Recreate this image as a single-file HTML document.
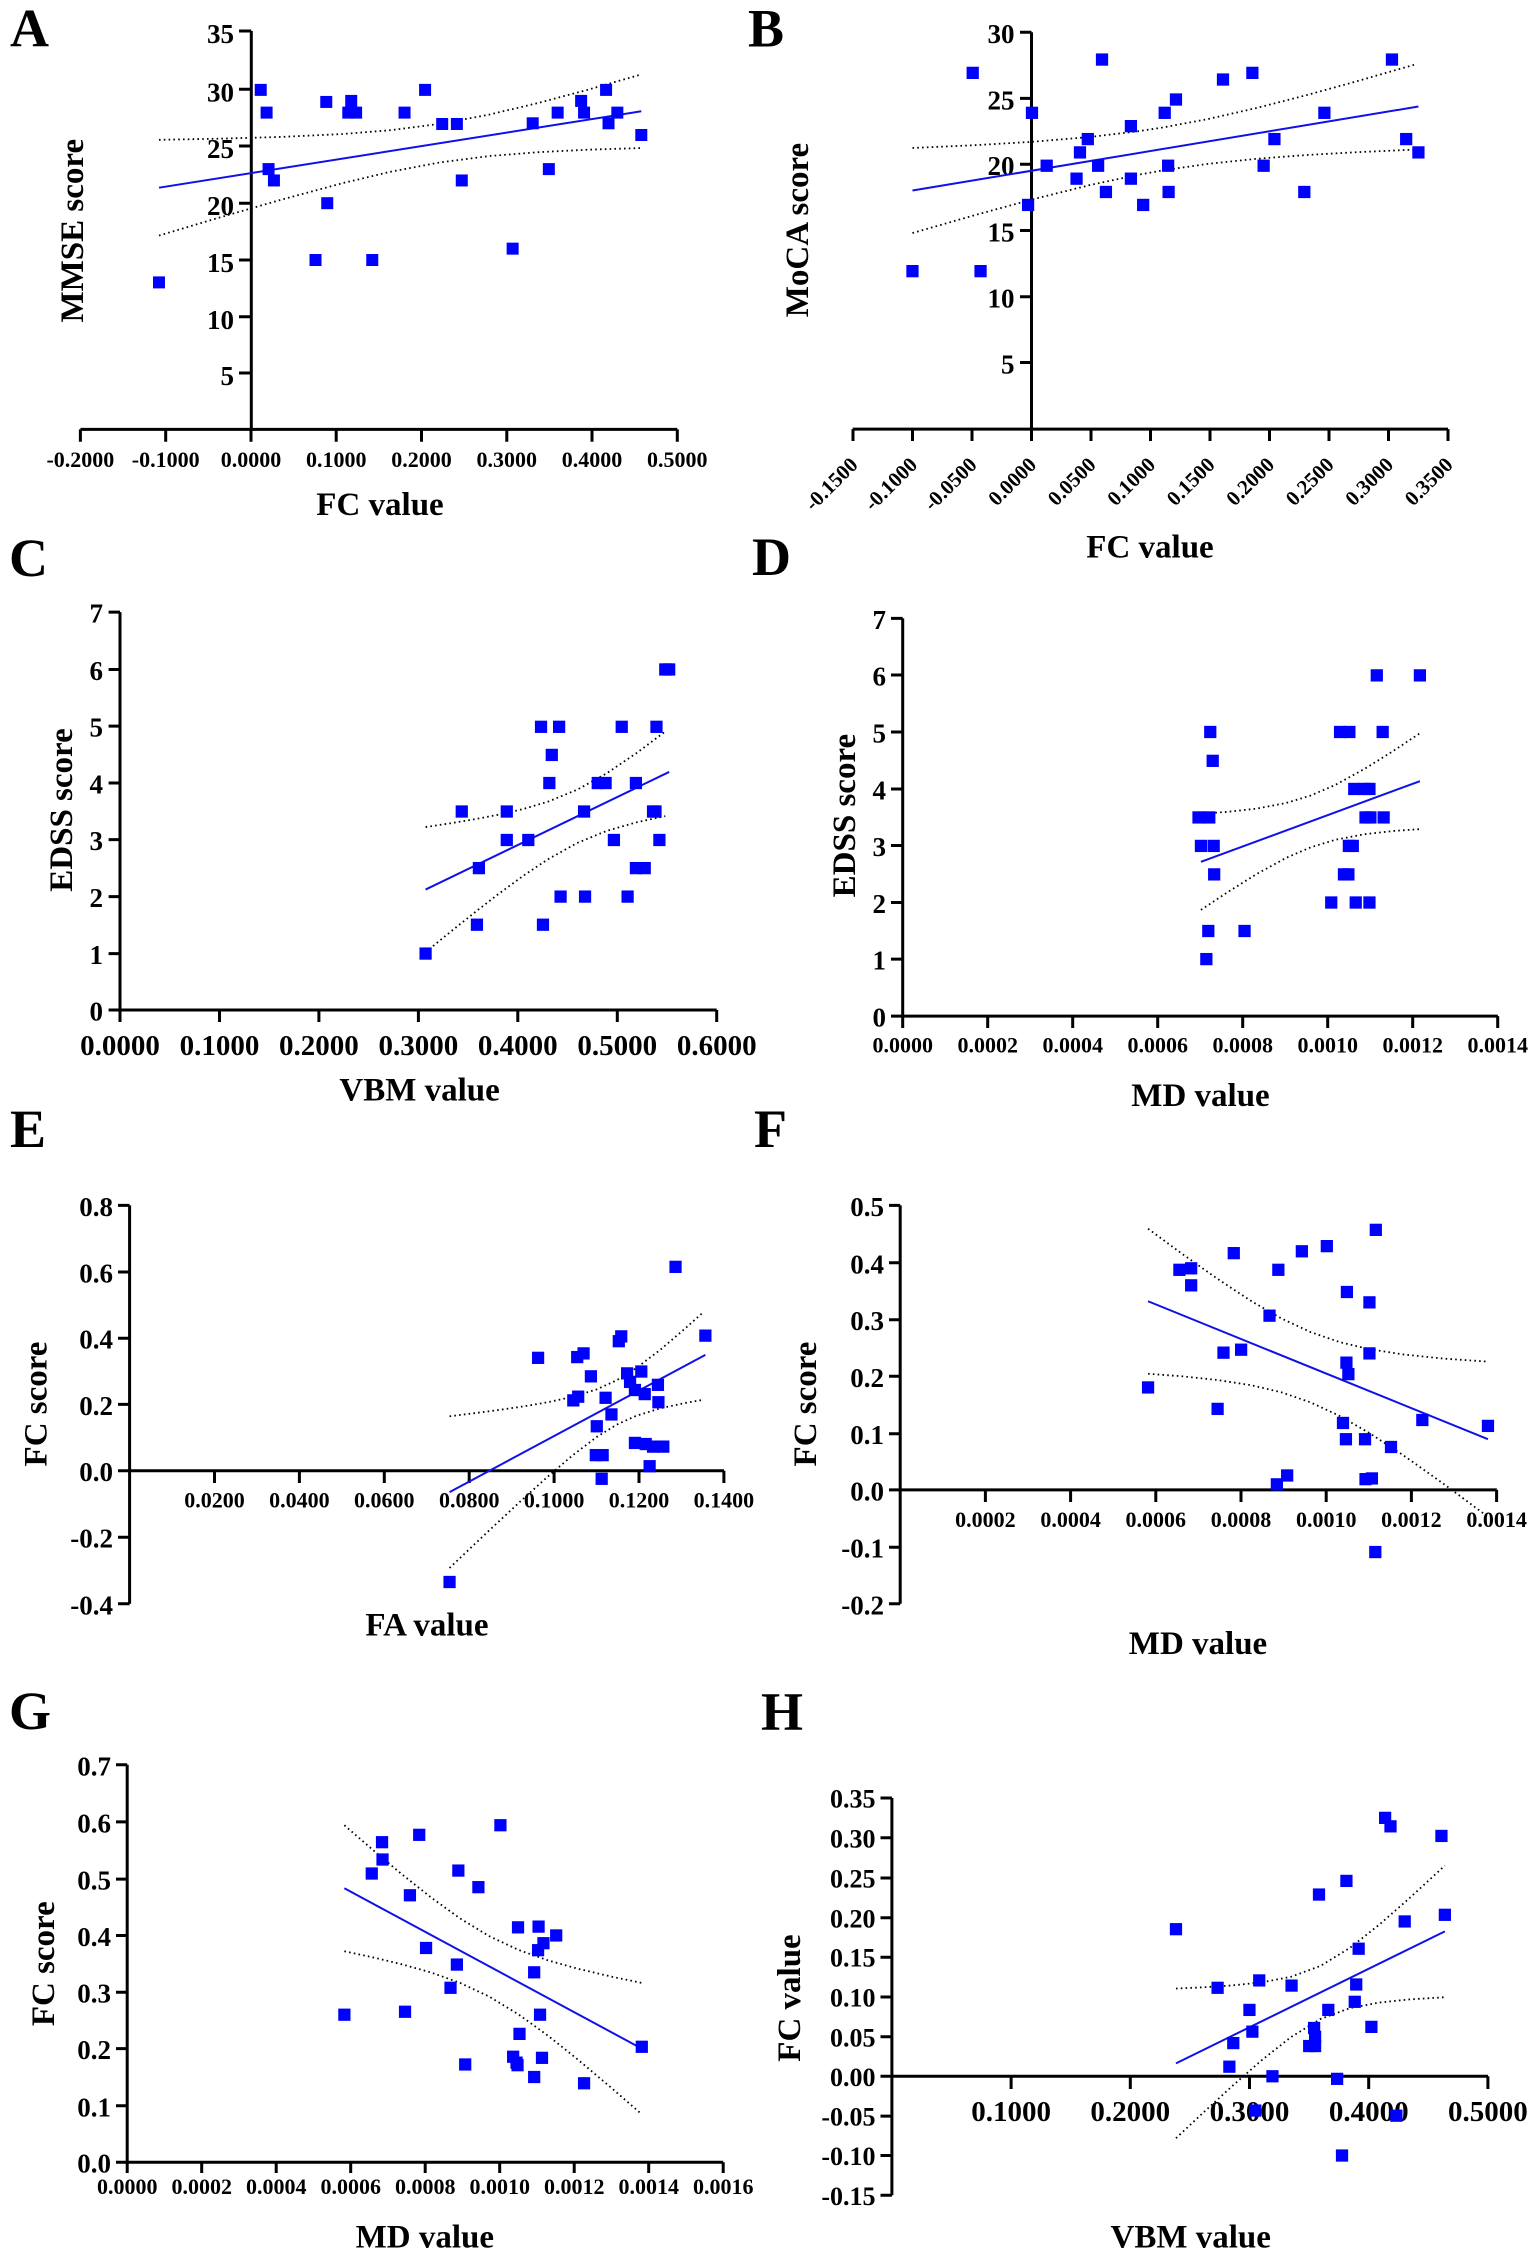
<!DOCTYPE html>
<html><head><meta charset="utf-8"><style>
html,body{margin:0;padding:0;background:#fff}
svg{display:block}
.t{font-family:"Liberation Serif","DejaVu Serif",serif;font-weight:bold;fill:#000}
.yl{font-size:27px;text-anchor:end}
.yh{font-size:26px;text-anchor:end}
.xl{font-size:22px;text-anchor:middle}
.xb{font-size:29px;text-anchor:middle}
.xr{font-size:21px;text-anchor:end}
.ti{font-size:33px;text-anchor:middle}
.lt{font-size:54px}
.ax{stroke:#000;stroke-width:3;fill:none}
.rl{stroke:#1010e8;stroke-width:2;fill:none}
.ci{stroke:#000;stroke-width:1.8;fill:none;stroke-dasharray:1.6 3.2}
.pts use{fill:#0000ff}
</style></head><body>
<svg width="1535" height="2258" viewBox="0 0 1535 2258" xmlns="http://www.w3.org/2000/svg">
<defs>
<rect id="sA" x="-12.27" y="-17.42" width="24.53" height="34.84" fill="#0000ff"/>
<rect id="sQ" x="-12.5" y="-16.6" width="25" height="33.2" fill="#0000ff"/>
</defs>
<rect width="1535" height="2258" fill="#fff"/>

<!-- ================= A ================= -->
<text class="t lt" x="10" y="46.5">A</text>
<path class="ax" d="M251.3,31V429.4M80.4,429.4H677.3
M239,31H251.3M239,89.3H251.3M239,146H251.3M239,203.2H251.3M239,260H251.3M239,316.8H251.3M239,373H251.3
M80.4,429.4V441.8M165.7,429.4V441.8M251,429.4V441.8M336.2,429.4V441.8M421.5,429.4V441.8M506.8,429.4V441.8M592,429.4V441.8M677.3,429.4V441.8"/>
<text class="t yl" x="234" y="43">35</text>
<text class="t yl" x="234" y="101.3">30</text>
<text class="t yl" x="234" y="158">25</text>
<text class="t yl" x="234" y="215.2">20</text>
<text class="t yl" x="234" y="272">15</text>
<text class="t yl" x="234" y="328.8">10</text>
<text class="t yl" x="234" y="385">5</text>
<text class="t xl" x="80.4" y="467">-0.2000</text>
<text class="t xl" x="165.7" y="467">-0.1000</text>
<text class="t xl" x="251" y="467">0.0000</text>
<text class="t xl" x="336.2" y="467">0.1000</text>
<text class="t xl" x="421.5" y="467">0.2000</text>
<text class="t xl" x="506.8" y="467">0.3000</text>
<text class="t xl" x="592" y="467">0.4000</text>
<text class="t xl" x="677.3" y="467">0.5000</text>
<text class="t ti" x="380" y="515">FC value</text>
<text class="t ti" transform="translate(83,230.7) rotate(-90)">MMSE score</text>
<g transform="scale(0.48917,0.34439)">
<polyline class="ci" vector-effect="non-scaling-stroke" points="325,406 450,402.6 575,397.6 700,389.2 800,377.8 900,359.5 1000,332.8 1100,299.1 1200,261.2 1311,216.2"/>
<polyline class="ci" vector-effect="non-scaling-stroke" points="325,684 450,631.1 575,579.8 700,531.9 800,498.2 900,471.5 1000,453.2 1100,441.9 1200,434.8 1311,429.8"/>
<line class="rl" vector-effect="non-scaling-stroke" x1="325" y1="545" x2="1311" y2="323"/>
<g class="pts">
<use href="#sA" x="533" y="261"/><use href="#sA" x="545" y="327"/><use href="#sA" x="549" y="491"/><use href="#sA" x="560" y="524"/><use href="#sA" x="645" y="755"/><use href="#sA" x="667" y="296"/><use href="#sA" x="669" y="590"/><use href="#sA" x="718" y="293"/><use href="#sA" x="712" y="327"/><use href="#sA" x="728" y="327"/><use href="#sA" x="761" y="755"/><use href="#sA" x="827" y="327"/><use href="#sA" x="869" y="261"/><use href="#sA" x="904" y="360"/><use href="#sA" x="934" y="360"/><use href="#sA" x="944" y="524"/><use href="#sA" x="1048" y="722"/><use href="#sA" x="1089" y="358"/><use href="#sA" x="1122" y="491"/><use href="#sA" x="1140" y="327"/><use href="#sA" x="1188" y="293"/><use href="#sA" x="1194" y="327"/><use href="#sA" x="1239" y="261"/><use href="#sA" x="1244" y="358"/><use href="#sA" x="1262" y="327"/><use href="#sA" x="1311" y="392"/><use href="#sA" x="325" y="820"/>
</g></g>

<!-- ================= B ================= -->
<text class="t lt" x="748" y="46.5">B</text>
<path class="ax" d="M1031.5,32.2V429.1M852.7,429.1H1448
M1020,32.2H1031.5M1020,98.4H1031.5M1020,164.2H1031.5M1020,230.5H1031.5M1020,296.7H1031.5M1020,362.5H1031.5
M853,429.1V441M912.5,429.1V441M972,429.1V441M1031.5,429.1V441M1091,429.1V441M1150.5,429.1V441M1210,429.1V441M1269.5,429.1V441M1329,429.1V441M1388.5,429.1V441M1448,429.1V441"/>
<text class="t yl" x="1014.5" y="43.2">30</text>
<text class="t yl" x="1014.5" y="109.4">25</text>
<text class="t yl" x="1014.5" y="175.2">20</text>
<text class="t yl" x="1014.5" y="241.5">15</text>
<text class="t yl" x="1014.5" y="307.7">10</text>
<text class="t yl" x="1014.5" y="373.5">5</text>
<text class="t xr" transform="translate(859,466) rotate(-45)">-0.1500</text>
<text class="t xr" transform="translate(918.5,466) rotate(-45)">-0.1000</text>
<text class="t xr" transform="translate(978,466) rotate(-45)">-0.0500</text>
<text class="t xr" transform="translate(1037.5,466) rotate(-45)">0.0000</text>
<text class="t xr" transform="translate(1097,466) rotate(-45)">0.0500</text>
<text class="t xr" transform="translate(1156.5,466) rotate(-45)">0.1000</text>
<text class="t xr" transform="translate(1216,466) rotate(-45)">0.1500</text>
<text class="t xr" transform="translate(1275.5,466) rotate(-45)">0.2000</text>
<text class="t xr" transform="translate(1335,466) rotate(-45)">0.2500</text>
<text class="t xr" transform="translate(1394.5,466) rotate(-45)">0.3000</text>
<text class="t xr" transform="translate(1454,466) rotate(-45)">0.3500</text>
<text class="t ti" x="1150" y="557.4">FC value</text>
<text class="t ti" transform="translate(808,230) rotate(-90)">MoCA score</text>
<g transform="translate(767,0) scale(0.48979,0.36991)">
<polyline class="ci" vector-effect="non-scaling-stroke" points="297,400 420,392.8 540,383.5 660,370.3 760,354.4 810,344.2 900,321.9 1000,291.8 1100,257.8 1200,221.3 1325,173.7"/>
<polyline class="ci" vector-effect="non-scaling-stroke" points="297,630 420,583.2 540,539.7 660,500.1 760,472 810,460.2 900,443.1 1000,429.2 1100,419.2 1200,411.7 1325,404.3"/>
<line class="rl" vector-effect="non-scaling-stroke" x1="297" y1="515" x2="1330" y2="288"/>
<g class="pts">
<use href="#sQ" x="297" y="733"/><use href="#sQ" x="420" y="197"/><use href="#sQ" x="436" y="733"/><use href="#sQ" x="541" y="305"/><use href="#sQ" x="533" y="554"/><use href="#sQ" x="571" y="448"/><use href="#sQ" x="632" y="483"/><use href="#sQ" x="639" y="412"/><use href="#sQ" x="655" y="376"/><use href="#sQ" x="676" y="448"/><use href="#sQ" x="684" y="161"/><use href="#sQ" x="692" y="519"/><use href="#sQ" x="743" y="341"/><use href="#sQ" x="743" y="483"/><use href="#sQ" x="768" y="554"/><use href="#sQ" x="812" y="305"/><use href="#sQ" x="819" y="448"/><use href="#sQ" x="820" y="519"/><use href="#sQ" x="835" y="269"/><use href="#sQ" x="931" y="215"/><use href="#sQ" x="991" y="197"/><use href="#sQ" x="1014" y="448"/><use href="#sQ" x="1036" y="376"/><use href="#sQ" x="1097" y="519"/><use href="#sQ" x="1138" y="305"/><use href="#sQ" x="1276" y="161"/><use href="#sQ" x="1305" y="376"/><use href="#sQ" x="1330" y="412"/>
</g></g>

<!-- ================= C ================= -->
<text class="t lt" x="9" y="576">C</text>
<path class="ax" d="M120,612.1V1010M119.8,1010H716.7
M108.6,612.1H120M108.6,669.5H120M108.6,726.1H120M108.6,783H120M108.6,839.6H120M108.6,896.6H120M108.6,953.6H120M108.6,1010H120
M120,1010V1022M219.5,1010V1022M318.9,1010V1022M418.4,1010V1022M517.8,1010V1022M617.3,1010V1022M716.7,1010V1022"/>
<text class="t yl" x="103" y="622.6">7</text>
<text class="t yl" x="103" y="680">6</text>
<text class="t yl" x="103" y="736.6">5</text>
<text class="t yl" x="103" y="793.5">4</text>
<text class="t yl" x="103" y="850.1">3</text>
<text class="t yl" x="103" y="907.1">2</text>
<text class="t yl" x="103" y="964.1">1</text>
<text class="t yl" x="103" y="1020.5">0</text>
<text class="t xb" x="120" y="1055">0.0000</text>
<text class="t xb" x="219.5" y="1055">0.1000</text>
<text class="t xb" x="318.9" y="1055">0.2000</text>
<text class="t xb" x="418.4" y="1055">0.3000</text>
<text class="t xb" x="517.8" y="1055">0.4000</text>
<text class="t xb" x="617.3" y="1055">0.5000</text>
<text class="t xb" x="716.7" y="1055">0.6000</text>
<text class="t ti" x="419.6" y="1100.4">VBM value</text>
<text class="t ti" transform="translate(72,810) rotate(-90)">EDSS score</text>
<g transform="translate(0,540) scale(0.48917,0.36991)">
<polyline class="ci" vector-effect="non-scaling-stroke" points="870,776 920,766 970,754.9 1020,742.4 1070,727.1 1120,707.5 1180,675 1240,630.9 1300,577.2 1360,517.8"/>
<polyline class="ci" vector-effect="non-scaling-stroke" points="870,1114 920,1060.2 970,1007.3 1020,956 1070,907.5 1120,863.2 1180,819 1240,786.5 1300,763.6 1360,746.4"/>
<line class="rl" vector-effect="non-scaling-stroke" x1="870" y1="945" x2="1368" y2="627"/>
<g class="pts">
<use href="#sQ" x="870" y="1118"/><use href="#sQ" x="944" y="734"/><use href="#sQ" x="975" y="1040"/><use href="#sQ" x="979" y="887"/><use href="#sQ" x="1036" y="734"/><use href="#sQ" x="1036" y="811"/><use href="#sQ" x="1080" y="811"/><use href="#sQ" x="1106" y="505"/><use href="#sQ" x="1110" y="1040"/><use href="#sQ" x="1128" y="581"/><use href="#sQ" x="1123" y="657"/><use href="#sQ" x="1143" y="505"/><use href="#sQ" x="1146" y="964"/><use href="#sQ" x="1194" y="734"/><use href="#sQ" x="1196" y="964"/><use href="#sQ" x="1222" y="657"/><use href="#sQ" x="1238" y="657"/><use href="#sQ" x="1255" y="811"/><use href="#sQ" x="1271" y="505"/><use href="#sQ" x="1283" y="964"/><use href="#sQ" x="1300" y="657"/><use href="#sQ" x="1300" y="887"/><use href="#sQ" x="1318" y="887"/><use href="#sQ" x="1335" y="734"/><use href="#sQ" x="1340" y="734"/><use href="#sQ" x="1342" y="505"/><use href="#sQ" x="1348" y="811"/><use href="#sQ" x="1360" y="350"/><use href="#sQ" x="1368" y="350"/>
</g></g>

<!-- ================= D ================= -->
<text class="t lt" x="752" y="575">D</text>
<path class="ax" d="M902.7,618.4V1016.1M902.7,1016.1H1497.8
M891,618.4H902.7M891,675H902.7M891,732H902.7M891,789H902.7M891,845.5H902.7M891,902.5H902.7M891,959.1H902.7M891,1016.1H902.7
M902.7,1016.1V1028M987.7,1016.1V1028M1072.7,1016.1V1028M1157.7,1016.1V1028M1242.7,1016.1V1028M1327.7,1016.1V1028M1412.7,1016.1V1028M1497.7,1016.1V1028"/>
<text class="t yl" x="886" y="628.9">7</text>
<text class="t yl" x="886" y="685.5">6</text>
<text class="t yl" x="886" y="742.5">5</text>
<text class="t yl" x="886" y="799.5">4</text>
<text class="t yl" x="886" y="856">3</text>
<text class="t yl" x="886" y="913">2</text>
<text class="t yl" x="886" y="969.6">1</text>
<text class="t yl" x="886" y="1026.6">0</text>
<text class="t xl" x="902.7" y="1052.3">0.0000</text>
<text class="t xl" x="987.7" y="1052.3">0.0002</text>
<text class="t xl" x="1072.7" y="1052.3">0.0004</text>
<text class="t xl" x="1157.7" y="1052.3">0.0006</text>
<text class="t xl" x="1242.7" y="1052.3">0.0008</text>
<text class="t xl" x="1327.7" y="1052.3">0.0010</text>
<text class="t xl" x="1412.7" y="1052.3">0.0012</text>
<text class="t xl" x="1497.7" y="1052.3">0.0014</text>
<text class="t ti" x="1200.5" y="1106">MD value</text>
<text class="t ti" transform="translate(855,815.6) rotate(-90)">EDSS score</text>
<g transform="translate(767,540) scale(0.48979,0.36991)">
<polyline class="ci" vector-effect="non-scaling-stroke" points="886,740 940,735 1000,726.1 1060,711 1110,690.8 1160,662.3 1220,618.8 1280,569.1 1333,522.4"/>
<polyline class="ci" vector-effect="non-scaling-stroke" points="886,1000 940,952.4 1000,902.7 1060,859.2 1110,830.8 1160,810.5 1220,795.4 1280,786.5 1333,781.6"/>
<line class="rl" vector-effect="non-scaling-stroke" x1="886" y1="870" x2="1333" y2="652"/>
<g class="pts">
<use href="#sQ" x="897" y="1133"/><use href="#sQ" x="901" y="1057"/><use href="#sQ" x="975" y="1057"/><use href="#sQ" x="886" y="827"/><use href="#sQ" x="912" y="827"/><use href="#sQ" x="913" y="904"/><use href="#sQ" x="881" y="750"/><use href="#sQ" x="903" y="750"/><use href="#sQ" x="905" y="519"/><use href="#sQ" x="910" y="597"/><use href="#sQ" x="1152" y="980"/><use href="#sQ" x="1170" y="519"/><use href="#sQ" x="1189" y="519"/><use href="#sQ" x="1178" y="904"/><use href="#sQ" x="1187" y="904"/><use href="#sQ" x="1188" y="827"/><use href="#sQ" x="1196" y="827"/><use href="#sQ" x="1199" y="673"/><use href="#sQ" x="1220" y="673"/><use href="#sQ" x="1230" y="673"/><use href="#sQ" x="1202" y="980"/><use href="#sQ" x="1230" y="980"/><use href="#sQ" x="1222" y="750"/><use href="#sQ" x="1232" y="750"/><use href="#sQ" x="1259" y="750"/><use href="#sQ" x="1245" y="366"/><use href="#sQ" x="1257" y="519"/><use href="#sQ" x="1333" y="366"/>
</g></g>

<!-- ================= E ================= -->
<text class="t lt" x="10" y="1147">E</text>
<path class="ax" d="M129.6,1205.4V1603.8M129.6,1470.7H724
M118,1205.4H129.6M118,1272H129.6M118,1338.2H129.6M118,1404.4H129.6M118,1470.7H129.6M118,1537.2H129.6M118,1603.8H129.6
M214.5,1470.7V1483M299.4,1470.7V1483M384.3,1470.7V1483M469.2,1470.7V1483M554.1,1470.7V1483M639,1470.7V1483M723.9,1470.7V1483"/>
<text class="t yl" x="113" y="1215.9">0.8</text>
<text class="t yl" x="113" y="1282.5">0.6</text>
<text class="t yl" x="113" y="1348.7">0.4</text>
<text class="t yl" x="113" y="1414.9">0.2</text>
<text class="t yl" x="113" y="1481.2">0.0</text>
<text class="t yl" x="113" y="1547.7">-0.2</text>
<text class="t yl" x="113" y="1614.3">-0.4</text>
<text class="t xl" x="214.5" y="1507.6">0.0200</text>
<text class="t xl" x="299.4" y="1507.6">0.0400</text>
<text class="t xl" x="384.3" y="1507.6">0.0600</text>
<text class="t xl" x="469.2" y="1507.6">0.0800</text>
<text class="t xl" x="554.1" y="1507.6">0.1000</text>
<text class="t xl" x="639" y="1507.6">0.1200</text>
<text class="t xl" x="723.9" y="1507.6">0.1400</text>
<text class="t ti" x="427" y="1635.3">FA value</text>
<text class="t ti" transform="translate(46.5,1404) rotate(-90)">FC score</text>
<g transform="translate(0,1110) scale(0.48917,0.36991)">
<polyline class="ci" vector-effect="non-scaling-stroke" points="919,828 970,819.6 1020,810.9 1070,801.3 1120,790 1170,775.7 1220,755.2 1260,731.1 1300,698.4 1350,648 1400,591.4 1435,549.8"/>
<polyline class="ci" vector-effect="non-scaling-stroke" points="919,1238 970,1174 1020,1111.9 1070,1050.5 1120,990.8 1170,934.1 1220,883.8 1260,851.1 1300,827 1350,806.4 1400,792.2 1435,784"/>
<line class="rl" vector-effect="non-scaling-stroke" x1="919" y1="1033" x2="1442" y2="662"/>
<g class="pts">
<use href="#sQ" x="919" y="1276"/><use href="#sQ" x="1100" y="670"/><use href="#sQ" x="1172" y="785"/><use href="#sQ" x="1182" y="775"/><use href="#sQ" x="1180" y="668"/><use href="#sQ" x="1193" y="658"/><use href="#sQ" x="1208" y="720"/><use href="#sQ" x="1220" y="855"/><use href="#sQ" x="1218" y="933"/><use href="#sQ" x="1232" y="933"/><use href="#sQ" x="1230" y="997"/><use href="#sQ" x="1238" y="778"/><use href="#sQ" x="1250" y="823"/><use href="#sQ" x="1265" y="625"/><use href="#sQ" x="1270" y="612"/><use href="#sQ" x="1282" y="712"/><use href="#sQ" x="1288" y="735"/><use href="#sQ" x="1298" y="757"/><use href="#sQ" x="1298" y="900"/><use href="#sQ" x="1311" y="707"/><use href="#sQ" x="1318" y="768"/><use href="#sQ" x="1320" y="903"/><use href="#sQ" x="1328" y="963"/><use href="#sQ" x="1335" y="910"/><use href="#sQ" x="1345" y="743"/><use href="#sQ" x="1346" y="790"/><use href="#sQ" x="1356" y="910"/><use href="#sQ" x="1381" y="424"/><use href="#sQ" x="1442" y="610"/>
</g></g>

<!-- ================= F ================= -->
<text class="t lt" x="754" y="1147">F</text>
<path class="ax" d="M900.2,1205.4V1603.8M900.2,1489.9H1496.8
M889,1205.4H900.2M889,1262.8H900.2M889,1319.7H900.2M889,1376.3H900.2M889,1433.7H900.2M889,1489.9H900.2M889,1547.2H900.2M889,1603.8H900.2
M985.4,1489.9V1502M1070.6,1489.9V1502M1155.8,1489.9V1502M1241,1489.9V1502M1326.2,1489.9V1502M1411.4,1489.9V1502M1496.6,1489.9V1502"/>
<text class="t yl" x="884" y="1215.9">0.5</text>
<text class="t yl" x="884" y="1273.3">0.4</text>
<text class="t yl" x="884" y="1330.2">0.3</text>
<text class="t yl" x="884" y="1386.8">0.2</text>
<text class="t yl" x="884" y="1444.2">0.1</text>
<text class="t yl" x="884" y="1500.4">0.0</text>
<text class="t yl" x="884" y="1557.7">-0.1</text>
<text class="t yl" x="884" y="1614.3">-0.2</text>
<text class="t xl" x="985.4" y="1526.9">0.0002</text>
<text class="t xl" x="1070.6" y="1526.9">0.0004</text>
<text class="t xl" x="1155.8" y="1526.9">0.0006</text>
<text class="t xl" x="1241" y="1526.9">0.0008</text>
<text class="t xl" x="1326.2" y="1526.9">0.0010</text>
<text class="t xl" x="1411.4" y="1526.9">0.0012</text>
<text class="t xl" x="1496.6" y="1526.9">0.0014</text>
<text class="t ti" x="1198" y="1653.8">MD value</text>
<text class="t ti" transform="translate(816,1404) rotate(-90)">FC score</text>
<g transform="translate(767,1110) scale(0.48979,0.36991)">
<polyline class="ci" vector-effect="non-scaling-stroke" points="778,321 850,391.2 920,456.7 990,517.6 1050,563.3 1110,600.5 1170,627.8 1230,646.6 1300,661 1380,671.9 1472,680.3"/>
<polyline class="ci" vector-effect="non-scaling-stroke" points="778,713 850,720.2 920,729.9 990,744.4 1050,763.1 1110,790.5 1170,827.6 1230,873.4 1300,934.2 1380,1009.3 1472,1099.7"/>
<line class="rl" vector-effect="non-scaling-stroke" x1="778" y1="517" x2="1472" y2="890"/>
<g class="pts">
<use href="#sQ" x="778" y="750"/><use href="#sQ" x="842" y="432"/><use href="#sQ" x="866" y="428"/><use href="#sQ" x="866" y="474"/><use href="#sQ" x="920" y="808"/><use href="#sQ" x="932" y="656"/><use href="#sQ" x="953" y="387"/><use href="#sQ" x="968" y="648"/><use href="#sQ" x="1026" y="556"/><use href="#sQ" x="1041" y="1012"/><use href="#sQ" x="1044" y="432"/><use href="#sQ" x="1062" y="988"/><use href="#sQ" x="1092" y="382"/><use href="#sQ" x="1143" y="368"/><use href="#sQ" x="1176" y="846"/><use href="#sQ" x="1182" y="890"/><use href="#sQ" x="1184" y="492"/><use href="#sQ" x="1183" y="683"/><use href="#sQ" x="1187" y="714"/><use href="#sQ" x="1221" y="890"/><use href="#sQ" x="1222" y="998"/><use href="#sQ" x="1235" y="996"/><use href="#sQ" x="1230" y="520"/><use href="#sQ" x="1230" y="658"/><use href="#sQ" x="1243" y="324"/><use href="#sQ" x="1242" y="1195"/><use href="#sQ" x="1274" y="911"/><use href="#sQ" x="1338" y="838"/><use href="#sQ" x="1472" y="854"/>
</g></g>

<!-- ================= G ================= -->
<text class="t lt" x="9" y="1729">G</text>
<path class="ax" d="M127.2,1764.8V2162.2M127.2,2162.2H723.2
M116,1764.8H127.2M116,1821.9H127.2M116,1879.1H127.2M116,1935.5H127.2M116,1992.2H127.2M116,2048.6H127.2M116,2105.8H127.2M116,2162.2H127.2
M127.2,2162.2V2173M201.7,2162.2V2173M276.2,2162.2V2173M350.7,2162.2V2173M425.2,2162.2V2173M499.7,2162.2V2173M574.2,2162.2V2173M648.7,2162.2V2173M723.2,2162.2V2173"/>
<text class="t yl" x="111" y="1775.3">0.7</text>
<text class="t yl" x="111" y="1832.4">0.6</text>
<text class="t yl" x="111" y="1889.6">0.5</text>
<text class="t yl" x="111" y="1946">0.4</text>
<text class="t yl" x="111" y="2002.7">0.3</text>
<text class="t yl" x="111" y="2059.1">0.2</text>
<text class="t yl" x="111" y="2116.3">0.1</text>
<text class="t yl" x="111" y="2172.7">0.0</text>
<text class="t xl" x="127.2" y="2194.2">0.0000</text>
<text class="t xl" x="201.7" y="2194.2">0.0002</text>
<text class="t xl" x="276.2" y="2194.2">0.0004</text>
<text class="t xl" x="350.7" y="2194.2">0.0006</text>
<text class="t xl" x="425.2" y="2194.2">0.0008</text>
<text class="t xl" x="499.7" y="2194.2">0.0010</text>
<text class="t xl" x="574.2" y="2194.2">0.0012</text>
<text class="t xl" x="648.7" y="2194.2">0.0014</text>
<text class="t xl" x="723.2" y="2194.2">0.0016</text>
<text class="t ti" x="424.8" y="2247.7">MD value</text>
<text class="t ti" transform="translate(53.8,1963.7) rotate(-90)">FC score</text>
<g transform="translate(0,1680) scale(0.48917,0.36862)">
<polyline class="ci" vector-effect="non-scaling-stroke" points="704,394 760,458.4 820,525.3 880,588.8 940,646.4 1000,694.8 1060,732.2 1120,760.5 1180,782.9 1250,804.7 1312,821.8"/>
<polyline class="ci" vector-effect="non-scaling-stroke" points="704,736 760,751.8 820,770.7 880,793 940,821.4 1000,858.8 1060,907.2 1120,964.7 1180,1028.3 1250,1106.7 1312,1178.2"/>
<line class="rl" vector-effect="non-scaling-stroke" x1="704" y1="565" x2="1312" y2="1000"/>
<g class="pts">
<use href="#sQ" x="704" y="908"/><use href="#sQ" x="760" y="525"/><use href="#sQ" x="781" y="440"/><use href="#sQ" x="782" y="487"/><use href="#sQ" x="828" y="900"/><use href="#sQ" x="838" y="584"/><use href="#sQ" x="857" y="420"/><use href="#sQ" x="871" y="727"/><use href="#sQ" x="921" y="835"/><use href="#sQ" x="934" y="772"/><use href="#sQ" x="937" y="517"/><use href="#sQ" x="951" y="1043"/><use href="#sQ" x="978" y="562"/><use href="#sQ" x="1023" y="394"/><use href="#sQ" x="1049" y="1022"/><use href="#sQ" x="1056" y="1038"/><use href="#sQ" x="1058" y="1045"/><use href="#sQ" x="1059" y="671"/><use href="#sQ" x="1062" y="960"/><use href="#sQ" x="1092" y="1077"/><use href="#sQ" x="1092" y="793"/><use href="#sQ" x="1100" y="733"/><use href="#sQ" x="1101" y="669"/><use href="#sQ" x="1104" y="908"/><use href="#sQ" x="1108" y="1025"/><use href="#sQ" x="1111" y="714"/><use href="#sQ" x="1137" y="693"/><use href="#sQ" x="1194" y="1094"/><use href="#sQ" x="1312" y="995"/>
</g></g>

<!-- ================= H ================= -->
<text class="t lt" x="761" y="1730">H</text>
<path class="ax" d="M891.9,1798V2195.3M891.9,2076.3H1488
M880.5,1798H891.9M880.5,1837.8H891.9M880.5,1878H891.9M880.5,1917.8H891.9M880.5,1957.2H891.9M880.5,1997H891.9M880.5,2036.8H891.9M880.5,2076.3H891.9M880.5,2116.1H891.9M880.5,2155.5H891.9M880.5,2195.3H891.9
M1011.1,2076.3V2089M1130.3,2076.3V2089M1249.5,2076.3V2089M1368.7,2076.3V2089M1487.9,2076.3V2089"/>
<text class="t yh" x="875.5" y="1807.5">0.35</text>
<text class="t yh" x="875.5" y="1847.3">0.30</text>
<text class="t yh" x="875.5" y="1887.5">0.25</text>
<text class="t yh" x="875.5" y="1927.3">0.20</text>
<text class="t yh" x="875.5" y="1966.7">0.15</text>
<text class="t yh" x="875.5" y="2006.5">0.10</text>
<text class="t yh" x="875.5" y="2046.3">0.05</text>
<text class="t yh" x="875.5" y="2085.8">0.00</text>
<text class="t yh" x="875.5" y="2125.6">-0.05</text>
<text class="t yh" x="875.5" y="2165">-0.10</text>
<text class="t yh" x="875.5" y="2204.8">-0.15</text>
<text class="t xb" x="1011.1" y="2121.2">0.1000</text>
<text class="t xb" x="1130.3" y="2121.2">0.2000</text>
<text class="t xb" x="1249.5" y="2121.2">0.3000</text>
<text class="t xb" x="1368.7" y="2121.2">0.4000</text>
<text class="t xb" x="1487.9" y="2121.2">0.5000</text>
<text class="t ti" x="1190.7" y="2247.7">VBM value</text>
<text class="t ti" transform="translate(800,1998) rotate(-90)">FC value</text>
<g transform="translate(767,1680) scale(0.48979,0.36862)">
<polyline class="ci" vector-effect="non-scaling-stroke" points="835,837 890,833.7 950,828.6 1010,820.3 1070,805.1 1130,775.6 1190,726.8 1250,663.8 1310,593.9 1384,503.4"/>
<polyline class="ci" vector-effect="non-scaling-stroke" points="835,1243 890,1174.5 950,1101.4 1010,1031.5 1070,968.5 1130,919.6 1190,890.2 1250,875 1310,866.7 1384,860.6"/>
<line class="rl" vector-effect="non-scaling-stroke" x1="835" y1="1040" x2="1384" y2="682"/>
<g class="pts">
<use href="#sQ" x="835" y="676"/><use href="#sQ" x="920" y="835"/><use href="#sQ" x="944" y="1049"/><use href="#sQ" x="952" y="985"/><use href="#sQ" x="985" y="895"/><use href="#sQ" x="991" y="954"/><use href="#sQ" x="997" y="1168"/><use href="#sQ" x="1005" y="815"/><use href="#sQ" x="1032" y="1075"/><use href="#sQ" x="1071" y="829"/><use href="#sQ" x="1107" y="993"/><use href="#sQ" x="1117" y="944"/><use href="#sQ" x="1119" y="968"/><use href="#sQ" x="1119" y="993"/><use href="#sQ" x="1127" y="582"/><use href="#sQ" x="1146" y="895"/><use href="#sQ" x="1164" y="1082"/><use href="#sQ" x="1174" y="1290"/><use href="#sQ" x="1183" y="545"/><use href="#sQ" x="1200" y="873"/><use href="#sQ" x="1203" y="826"/><use href="#sQ" x="1208" y="729"/><use href="#sQ" x="1234" y="941"/><use href="#sQ" x="1262" y="374"/><use href="#sQ" x="1273" y="397"/><use href="#sQ" x="1285" y="1182"/><use href="#sQ" x="1302" y="655"/><use href="#sQ" x="1377" y="423"/><use href="#sQ" x="1384" y="637"/>
</g></g>
</svg>
</body></html>
